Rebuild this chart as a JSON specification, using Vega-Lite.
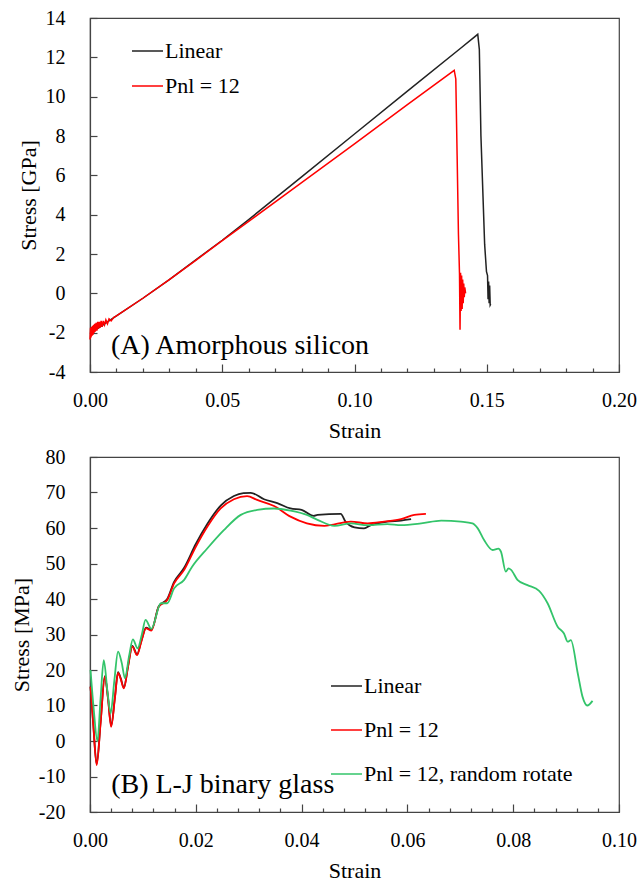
{
  "$schema": "https://vega.github.io/schema/vega-lite/v6.json",
  "background": "white",
  "padding": {"left": 9, "top": 7, "right": 0, "bottom": 0},
  "spacing": 4,
  "config": {
    "view": {"stroke": "#444", "strokeWidth": 1.2}
  },
  "resolve": {"scale": {"color": "independent"}, "legend": {"color": "independent"}},
  "datasets": {
    "a": [
      {"series": "Linear", "strain": 0.0, "stress": -2.05},
      {"series": "Linear", "strain": 0.01, "stress": -1.15},
      {"series": "Linear", "strain": 0.02, "stress": -0.25},
      {"series": "Linear", "strain": 0.03, "stress": 0.7},
      {"series": "Linear", "strain": 0.04, "stress": 1.7},
      {"series": "Linear", "strain": 0.05, "stress": 2.7},
      {"series": "Linear", "strain": 0.06, "stress": 3.75},
      {"series": "Linear", "strain": 0.08, "stress": 5.92},
      {"series": "Linear", "strain": 0.1, "stress": 8.1},
      {"series": "Linear", "strain": 0.12, "stress": 10.28},
      {"series": "Linear", "strain": 0.14, "stress": 12.45},
      {"series": "Linear", "strain": 0.1466, "stress": 13.17},
      {"series": "Linear", "strain": 0.1472, "stress": 12.4},
      {"series": "Linear", "strain": 0.1478, "stress": 8.0},
      {"series": "Linear", "strain": 0.1492, "stress": 2.5},
      {"series": "Linear", "strain": 0.1499, "stress": 1.1},
      {"series": "Linear", "strain": 0.1503, "stress": 0.9},
      {"series": "Linear", "strain": 0.1505, "stress": -0.3},
      {"series": "Linear", "strain": 0.1507, "stress": 0.6},
      {"series": "Linear", "strain": 0.1509, "stress": -0.5},
      {"series": "Linear", "strain": 0.1511, "stress": 0.4},
      {"series": "Linear", "strain": 0.1513, "stress": -0.6},
      {"series": "Linear", "strain": 0.1515, "stress": -0.55},
      {"series": "Pnl = 12", "strain": 0.0, "stress": -2.35},
      {"series": "Pnl = 12", "strain": 0.0002, "stress": -1.75},
      {"series": "Pnl = 12", "strain": 0.0004, "stress": -2.25},
      {"series": "Pnl = 12", "strain": 0.0006, "stress": -1.7},
      {"series": "Pnl = 12", "strain": 0.0008, "stress": -2.15},
      {"series": "Pnl = 12", "strain": 0.001, "stress": -1.65},
      {"series": "Pnl = 12", "strain": 0.0012, "stress": -2.1},
      {"series": "Pnl = 12", "strain": 0.0014, "stress": -1.6},
      {"series": "Pnl = 12", "strain": 0.0016, "stress": -2.0},
      {"series": "Pnl = 12", "strain": 0.0018, "stress": -1.55},
      {"series": "Pnl = 12", "strain": 0.002, "stress": -1.95},
      {"series": "Pnl = 12", "strain": 0.0023, "stress": -1.5},
      {"series": "Pnl = 12", "strain": 0.0026, "stress": -1.9},
      {"series": "Pnl = 12", "strain": 0.0029, "stress": -1.45},
      {"series": "Pnl = 12", "strain": 0.0032, "stress": -1.8},
      {"series": "Pnl = 12", "strain": 0.0035, "stress": -1.45},
      {"series": "Pnl = 12", "strain": 0.0038, "stress": -1.75},
      {"series": "Pnl = 12", "strain": 0.0042, "stress": -1.4},
      {"series": "Pnl = 12", "strain": 0.0046, "stress": -1.7},
      {"series": "Pnl = 12", "strain": 0.005, "stress": -1.4},
      {"series": "Pnl = 12", "strain": 0.0055, "stress": -1.6},
      {"series": "Pnl = 12", "strain": 0.006, "stress": -1.35},
      {"series": "Pnl = 12", "strain": 0.0066, "stress": -1.55},
      {"series": "Pnl = 12", "strain": 0.0072, "stress": -1.3},
      {"series": "Pnl = 12", "strain": 0.008, "stress": -1.4},
      {"series": "Pnl = 12", "strain": 0.009, "stress": -1.22},
      {"series": "Pnl = 12", "strain": 0.01, "stress": -1.15},
      {"series": "Pnl = 12", "strain": 0.02, "stress": -0.25},
      {"series": "Pnl = 12", "strain": 0.03, "stress": 0.7},
      {"series": "Pnl = 12", "strain": 0.04, "stress": 1.68},
      {"series": "Pnl = 12", "strain": 0.05, "stress": 2.68},
      {"series": "Pnl = 12", "strain": 0.06, "stress": 3.66},
      {"series": "Pnl = 12", "strain": 0.08, "stress": 5.63},
      {"series": "Pnl = 12", "strain": 0.1, "stress": 7.6},
      {"series": "Pnl = 12", "strain": 0.12, "stress": 9.6},
      {"series": "Pnl = 12", "strain": 0.1377, "stress": 11.34},
      {"series": "Pnl = 12", "strain": 0.1383, "stress": 10.9},
      {"series": "Pnl = 12", "strain": 0.1388, "stress": 7.0},
      {"series": "Pnl = 12", "strain": 0.1393, "stress": 3.0},
      {"series": "Pnl = 12", "strain": 0.1397, "stress": 1.0},
      {"series": "Pnl = 12", "strain": 0.1399, "stress": -1.85},
      {"series": "Pnl = 12", "strain": 0.1401, "stress": 1.05},
      {"series": "Pnl = 12", "strain": 0.1403, "stress": -0.9},
      {"series": "Pnl = 12", "strain": 0.1405, "stress": 0.9},
      {"series": "Pnl = 12", "strain": 0.1407, "stress": -0.8},
      {"series": "Pnl = 12", "strain": 0.1409, "stress": 0.7},
      {"series": "Pnl = 12", "strain": 0.1411, "stress": -0.5},
      {"series": "Pnl = 12", "strain": 0.1413, "stress": 0.5},
      {"series": "Pnl = 12", "strain": 0.1415, "stress": -0.2},
      {"series": "Pnl = 12", "strain": 0.1417, "stress": 0.3},
      {"series": "Pnl = 12", "strain": 0.142, "stress": 0.0}
    ],
    "b": [
      {"series": "Linear", "strain": 0.0001, "stress": 15.3},
      {"series": "Linear", "strain": 0.0006, "stress": 5.2},
      {"series": "Linear", "strain": 0.00126, "stress": -6.5},
      {"series": "Linear", "strain": 0.002, "stress": 5.3},
      {"series": "Linear", "strain": 0.0028, "stress": 18.3},
      {"series": "Linear", "strain": 0.0034, "stress": 12.2},
      {"series": "Linear", "strain": 0.004, "stress": 4.3},
      {"series": "Linear", "strain": 0.0047, "stress": 12.2},
      {"series": "Linear", "strain": 0.0053, "stress": 19.4},
      {"series": "Linear", "strain": 0.0058, "stress": 17.7},
      {"series": "Linear", "strain": 0.0064, "stress": 15.0},
      {"series": "Linear", "strain": 0.0072, "stress": 21.2},
      {"series": "Linear", "strain": 0.008, "stress": 26.8},
      {"series": "Linear", "strain": 0.0089, "stress": 24.4},
      {"series": "Linear", "strain": 0.0097, "stress": 28.2},
      {"series": "Linear", "strain": 0.0106, "stress": 31.9},
      {"series": "Linear", "strain": 0.0116, "stress": 31.3},
      {"series": "Linear", "strain": 0.013, "stress": 38.0},
      {"series": "Linear", "strain": 0.0146, "stress": 40.0},
      {"series": "Linear", "strain": 0.0159, "stress": 44.8},
      {"series": "Linear", "strain": 0.0178, "stress": 48.8},
      {"series": "Linear", "strain": 0.02, "stress": 55.5},
      {"series": "Linear", "strain": 0.0222, "stress": 61.2},
      {"series": "Linear", "strain": 0.0247, "stress": 66.3},
      {"series": "Linear", "strain": 0.0272, "stress": 69.0},
      {"series": "Linear", "strain": 0.029, "stress": 69.8},
      {"series": "Linear", "strain": 0.0304, "stress": 69.9},
      {"series": "Linear", "strain": 0.0329, "stress": 68.1},
      {"series": "Linear", "strain": 0.0354, "stress": 67.0},
      {"series": "Linear", "strain": 0.0379, "stress": 65.5},
      {"series": "Linear", "strain": 0.04, "stress": 65.1},
      {"series": "Linear", "strain": 0.0423, "stress": 63.4},
      {"series": "Linear", "strain": 0.043, "stress": 63.7},
      {"series": "Linear", "strain": 0.0474, "stress": 64.0},
      {"series": "Linear", "strain": 0.0483, "stress": 61.8},
      {"series": "Linear", "strain": 0.05, "stress": 60.2},
      {"series": "Linear", "strain": 0.0518, "stress": 59.9},
      {"series": "Linear", "strain": 0.0531, "stress": 60.8},
      {"series": "Linear", "strain": 0.0562, "stress": 61.8},
      {"series": "Linear", "strain": 0.0588, "stress": 62.1},
      {"series": "Linear", "strain": 0.0607, "stress": 62.5},
      {"series": "Pnl = 12", "strain": 0.0001, "stress": 15.3},
      {"series": "Pnl = 12", "strain": 0.0006, "stress": 5.0},
      {"series": "Pnl = 12", "strain": 0.00126, "stress": -6.8},
      {"series": "Pnl = 12", "strain": 0.002, "stress": 5.0},
      {"series": "Pnl = 12", "strain": 0.0028, "stress": 18.1},
      {"series": "Pnl = 12", "strain": 0.0034, "stress": 12.0},
      {"series": "Pnl = 12", "strain": 0.004, "stress": 4.0},
      {"series": "Pnl = 12", "strain": 0.0047, "stress": 12.0},
      {"series": "Pnl = 12", "strain": 0.0053, "stress": 19.2},
      {"series": "Pnl = 12", "strain": 0.0058, "stress": 17.5},
      {"series": "Pnl = 12", "strain": 0.0064, "stress": 14.8},
      {"series": "Pnl = 12", "strain": 0.0072, "stress": 21.0},
      {"series": "Pnl = 12", "strain": 0.008, "stress": 26.6},
      {"series": "Pnl = 12", "strain": 0.0089, "stress": 24.2},
      {"series": "Pnl = 12", "strain": 0.0097, "stress": 28.0},
      {"series": "Pnl = 12", "strain": 0.0106, "stress": 31.7},
      {"series": "Pnl = 12", "strain": 0.0116, "stress": 31.1},
      {"series": "Pnl = 12", "strain": 0.013, "stress": 37.8},
      {"series": "Pnl = 12", "strain": 0.0146, "stress": 39.7},
      {"series": "Pnl = 12", "strain": 0.0159, "stress": 44.4},
      {"series": "Pnl = 12", "strain": 0.0178, "stress": 48.2},
      {"series": "Pnl = 12", "strain": 0.02, "stress": 54.7},
      {"series": "Pnl = 12", "strain": 0.0222, "stress": 60.4},
      {"series": "Pnl = 12", "strain": 0.0247, "stress": 65.5},
      {"series": "Pnl = 12", "strain": 0.0272, "stress": 68.1},
      {"series": "Pnl = 12", "strain": 0.0297, "stress": 69.0},
      {"series": "Pnl = 12", "strain": 0.0316, "stress": 67.9},
      {"series": "Pnl = 12", "strain": 0.0348, "stress": 66.2},
      {"series": "Pnl = 12", "strain": 0.0379, "stress": 63.2},
      {"series": "Pnl = 12", "strain": 0.041, "stress": 61.3},
      {"series": "Pnl = 12", "strain": 0.0443, "stress": 60.6},
      {"series": "Pnl = 12", "strain": 0.0493, "stress": 61.8},
      {"series": "Pnl = 12", "strain": 0.0525, "stress": 61.3},
      {"series": "Pnl = 12", "strain": 0.0556, "stress": 61.8},
      {"series": "Pnl = 12", "strain": 0.0588, "stress": 62.5},
      {"series": "Pnl = 12", "strain": 0.0613, "stress": 63.7},
      {"series": "Pnl = 12", "strain": 0.0635, "stress": 64.0},
      {"series": "Pnl = 12, random rotate", "strain": 0.0001, "stress": 20.0},
      {"series": "Pnl = 12, random rotate", "strain": 0.0007, "stress": 9.0},
      {"series": "Pnl = 12, random rotate", "strain": 0.0014, "stress": 0.0},
      {"series": "Pnl = 12, random rotate", "strain": 0.002, "stress": 12.0},
      {"series": "Pnl = 12, random rotate", "strain": 0.0026, "stress": 22.8},
      {"series": "Pnl = 12, random rotate", "strain": 0.0033, "stress": 14.0},
      {"series": "Pnl = 12, random rotate", "strain": 0.0039, "stress": 7.8},
      {"series": "Pnl = 12, random rotate", "strain": 0.0046, "stress": 17.0},
      {"series": "Pnl = 12, random rotate", "strain": 0.0053, "stress": 25.2},
      {"series": "Pnl = 12, random rotate", "strain": 0.006, "stress": 22.0},
      {"series": "Pnl = 12, random rotate", "strain": 0.0066, "stress": 17.7},
      {"series": "Pnl = 12, random rotate", "strain": 0.0074, "stress": 24.0},
      {"series": "Pnl = 12, random rotate", "strain": 0.0081, "stress": 28.6},
      {"series": "Pnl = 12, random rotate", "strain": 0.009, "stress": 26.1},
      {"series": "Pnl = 12, random rotate", "strain": 0.0098, "stress": 30.0},
      {"series": "Pnl = 12, random rotate", "strain": 0.0105, "stress": 34.1},
      {"series": "Pnl = 12, random rotate", "strain": 0.0116, "stress": 31.6},
      {"series": "Pnl = 12, random rotate", "strain": 0.0134, "stress": 38.8},
      {"series": "Pnl = 12, random rotate", "strain": 0.0146, "stress": 38.8},
      {"series": "Pnl = 12, random rotate", "strain": 0.0159, "stress": 43.0},
      {"series": "Pnl = 12, random rotate", "strain": 0.0178, "stress": 45.4},
      {"series": "Pnl = 12, random rotate", "strain": 0.0193, "stress": 49.1},
      {"series": "Pnl = 12, random rotate", "strain": 0.0222, "stress": 54.3},
      {"series": "Pnl = 12, random rotate", "strain": 0.0253, "stress": 59.4},
      {"series": "Pnl = 12, random rotate", "strain": 0.0285, "stress": 63.7},
      {"series": "Pnl = 12, random rotate", "strain": 0.0316, "stress": 65.1},
      {"series": "Pnl = 12, random rotate", "strain": 0.0348, "stress": 65.5},
      {"series": "Pnl = 12, random rotate", "strain": 0.0379, "stress": 64.9},
      {"series": "Pnl = 12, random rotate", "strain": 0.041, "stress": 63.7},
      {"series": "Pnl = 12, random rotate", "strain": 0.043, "stress": 62.3},
      {"series": "Pnl = 12, random rotate", "strain": 0.0462, "stress": 60.6},
      {"series": "Pnl = 12, random rotate", "strain": 0.0493, "stress": 61.3},
      {"series": "Pnl = 12, random rotate", "strain": 0.0525, "stress": 60.8},
      {"series": "Pnl = 12, random rotate", "strain": 0.0562, "stress": 61.1},
      {"series": "Pnl = 12, random rotate", "strain": 0.0588, "stress": 60.8},
      {"series": "Pnl = 12, random rotate", "strain": 0.0626, "stress": 61.3},
      {"series": "Pnl = 12, random rotate", "strain": 0.0664, "stress": 62.1},
      {"series": "Pnl = 12, random rotate", "strain": 0.0701, "stress": 61.8},
      {"series": "Pnl = 12, random rotate", "strain": 0.0723, "stress": 61.3},
      {"series": "Pnl = 12, random rotate", "strain": 0.0733, "stress": 59.9},
      {"series": "Pnl = 12, random rotate", "strain": 0.0745, "stress": 56.6},
      {"series": "Pnl = 12, random rotate", "strain": 0.0761, "stress": 53.8},
      {"series": "Pnl = 12, random rotate", "strain": 0.0772, "stress": 54.2},
      {"series": "Pnl = 12, random rotate", "strain": 0.0777, "stress": 53.3},
      {"series": "Pnl = 12, random rotate", "strain": 0.0786, "stress": 47.7},
      {"series": "Pnl = 12, random rotate", "strain": 0.0791, "stress": 48.6},
      {"series": "Pnl = 12, random rotate", "strain": 0.0796, "stress": 48.2},
      {"series": "Pnl = 12, random rotate", "strain": 0.0808, "stress": 45.4},
      {"series": "Pnl = 12, random rotate", "strain": 0.0827, "stress": 43.9},
      {"series": "Pnl = 12, random rotate", "strain": 0.0849, "stress": 42.3},
      {"series": "Pnl = 12, random rotate", "strain": 0.0865, "stress": 38.8},
      {"series": "Pnl = 12, random rotate", "strain": 0.0884, "stress": 32.2},
      {"series": "Pnl = 12, random rotate", "strain": 0.0896, "stress": 30.3},
      {"series": "Pnl = 12, random rotate", "strain": 0.0903, "stress": 28.0},
      {"series": "Pnl = 12, random rotate", "strain": 0.0909, "stress": 28.4},
      {"series": "Pnl = 12, random rotate", "strain": 0.0922, "stress": 19.1},
      {"series": "Pnl = 12, random rotate", "strain": 0.0931, "stress": 12.5},
      {"series": "Pnl = 12, random rotate", "strain": 0.094, "stress": 10.0},
      {"series": "Pnl = 12, random rotate", "strain": 0.095, "stress": 11.3}
    ],
    "la": [{"strain": 0.0079, "stress": -3.08, "label": "(A) Amorphous silicon"}],
    "lb": [{"strain": 0.004, "stress": -14.6, "label": "(B) L-J binary glass"}]
  },
  "vconcat": [
    {
      "width": 529,
      "height": 354,
      "encoding": {
        "x": {"field": "strain", "type": "quantitative", "scale": {"domain": [0, 0.2], "nice": false},
          "axis": {"title": "Strain", "values": [0, 0.01, 0.02, 0.03, 0.04, 0.05, 0.06, 0.07, 0.08, 0.09, 0.1, 0.11, 0.12, 0.13, 0.14, 0.15, 0.16, 0.17, 0.18, 0.19, 0.2],
            "labelExpr": "round(datum.value*1000) % 50 == 0 ? format(datum.value, '.2f') : ''",
            "tickSize": {"condition": {"test": "round(datum.value*1000) % 50 == 0", "value": -8}, "value": -4},
            "labelPadding": 26, "titlePadding": 6, "labelFlush": false, "labelOverlap": false, "grid": false,
            "labelFont": "Liberation Serif", "labelFontSize": 20, "labelColor": "#000",
            "titleFont": "Liberation Serif", "titleFontSize": 22, "titleFontWeight": "normal", "titleColor": "#000",
            "domainColor": "#444", "domainWidth": 1.2, "tickColor": "#444", "tickWidth": 1.2}},
        "y": {"field": "stress", "type": "quantitative", "scale": {"domain": [-4, 14], "nice": false},
          "axis": {"title": "Stress [GPa]", "values": [-4, -2, 0, 2, 4, 6, 8, 10, 12, 14], "labelExpr": "'' + datum.value",
            "tickSize": -7, "labelPadding": 32, "titlePadding": 5, "labelFlush": false, "labelOverlap": false, "grid": false,
            "labelFont": "Liberation Serif", "labelFontSize": 20, "labelColor": "#000",
            "titleFont": "Liberation Serif", "titleFontSize": 22, "titleFontWeight": "normal", "titleColor": "#000",
            "domainColor": "#444", "domainWidth": 1.2, "tickColor": "#444", "tickWidth": 1.2}}
      },
      "layer": [
        {
          "data": {"name": "a"},
          "mark": {"type": "line", "strokeWidth": 1.5},
          "encoding": {
            "color": {"field": "series", "type": "nominal",
              "scale": {"domain": ["Linear", "Pnl = 12"], "range": ["#222222", "#ff0000"]},
              "legend": {"title": null, "orient": "none", "legendX": 41, "legendY": 16.5, "rowPadding": 7,
                "labelFont": "Liberation Serif", "labelFontSize": 22, "labelColor": "#000", "labelLimit": 0,
                "symbolType": "stroke", "symbolSize": 961, "symbolStrokeWidth": 1.5, "labelOffset": 1, "padding": 0}}
          }
        },
        {
          "data": {"name": "la"},
          "mark": {"type": "text", "align": "left", "baseline": "alphabetic", "fontSize": 28, "font": "Liberation Serif", "color": "#000"},
          "encoding": {"text": {"field": "label"}}
        }
      ]
    },
    {
      "width": 529,
      "height": 355,
      "encoding": {
        "x": {"field": "strain", "type": "quantitative", "scale": {"domain": [0, 0.1], "nice": false},
          "axis": {"title": "Strain", "values": [0, 0.004, 0.008, 0.012, 0.016, 0.02, 0.024, 0.028, 0.032, 0.036, 0.04, 0.044, 0.048, 0.052, 0.056, 0.06, 0.064, 0.068, 0.072, 0.076, 0.08, 0.084, 0.088, 0.092, 0.096, 0.1],
            "labelExpr": "round(datum.value*1000) % 20 == 0 ? format(datum.value, '.2f') : ''",
            "tickSize": {"condition": {"test": "round(datum.value*1000) % 20 == 0", "value": -8}, "value": -4},
            "labelPadding": 26, "titlePadding": 6, "labelFlush": false, "labelOverlap": false, "grid": false,
            "labelFont": "Liberation Serif", "labelFontSize": 20, "labelColor": "#000",
            "titleFont": "Liberation Serif", "titleFontSize": 22, "titleFontWeight": "normal", "titleColor": "#000",
            "domainColor": "#444", "domainWidth": 1.2, "tickColor": "#444", "tickWidth": 1.2}},
        "y": {"field": "stress", "type": "quantitative", "scale": {"domain": [-20, 80], "nice": false},
          "axis": {"title": "Stress [MPa]", "values": [-20, -10, 0, 10, 20, 30, 40, 50, 60, 70, 80], "labelExpr": "'' + datum.value",
            "tickSize": -7, "labelPadding": 32, "titlePadding": 5, "labelFlush": false, "labelOverlap": false, "grid": false,
            "labelFont": "Liberation Serif", "labelFontSize": 20, "labelColor": "#000",
            "titleFont": "Liberation Serif", "titleFontSize": 22, "titleFontWeight": "normal", "titleColor": "#000",
            "domainColor": "#444", "domainWidth": 1.2, "tickColor": "#444", "tickWidth": 1.2}}
      },
      "layer": [
        {
          "data": {"name": "b"},
          "mark": {"type": "line", "strokeWidth": 1.8, "interpolate": "monotone"},
          "encoding": {
            "color": {"field": "series", "type": "nominal",
              "scale": {"domain": ["Linear", "Pnl = 12", "Pnl = 12, random rotate"], "range": ["#222222", "#ff0000", "#33c46a"]},
              "legend": {"title": null, "orient": "none", "legendX": 240, "legendY": 212.5, "rowPadding": 16,
                "labelFont": "Liberation Serif", "labelFontSize": 22, "labelColor": "#000", "labelLimit": 0,
                "symbolType": "stroke", "symbolSize": 961, "symbolStrokeWidth": 1.5, "labelOffset": 1, "padding": 0}}
          }
        },
        {
          "data": {"name": "lb"},
          "mark": {"type": "text", "align": "left", "baseline": "alphabetic", "fontSize": 28, "font": "Liberation Serif", "color": "#000"},
          "encoding": {"text": {"field": "label"}}
        }
      ]
    }
  ]
}
